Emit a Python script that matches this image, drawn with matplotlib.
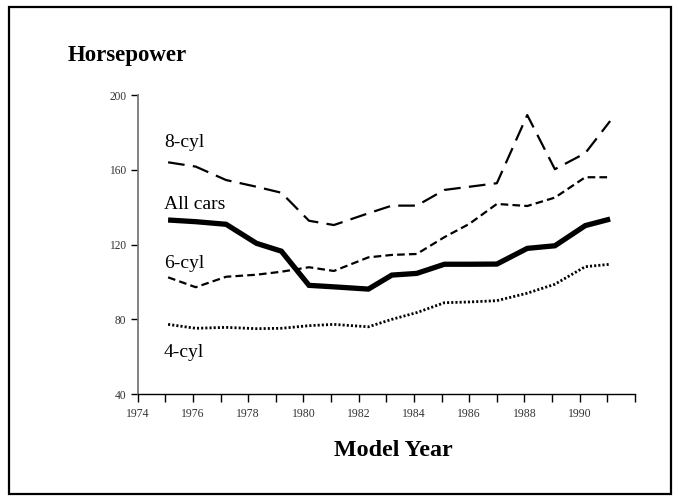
import matplotlib
matplotlib.use("Agg")
import matplotlib.pyplot as plt
from matplotlib.patches import Rectangle

plt.rcParams['font.family'] = ['Liberation Serif', 'DejaVu Serif']
plt.rcParams['lines.scale_dashes'] = False

# Data
years = [1975.1, 1976.1, 1977.2, 1978.3, 1979.2, 1980.2, 1981.1, 1982.35, 1983.2,
         1984.1, 1985.1, 1986.0, 1987.0, 1988.1, 1989.1, 1990.2, 1991.1]
cyl8 = [164.1, 161.8, 154.6, 151.0, 147.8, 132.8, 130.5, 136.8, 140.9,
        140.9, 149.3, 151.0, 152.9, 189.4, 160.4, 169.0, 186.2]
all_cars = [133.2, 132.3, 130.9, 120.7, 116.5, 98.2, 97.4, 96.2, 103.7,
            104.6, 109.5, 109.5, 109.6, 118.0, 119.4, 130.2, 133.7]
cyl6 = [102.5, 97.2, 102.8, 103.9, 105.5, 107.9, 105.9, 113.2, 114.5,
        115.0, 124.0, 131.1, 141.8, 140.7, 145.2, 156.1, 156.1]
cyl4 = [77.3, 75.2, 75.7, 75.0, 75.2, 76.6, 77.3, 76.0, 80.0,
        83.6, 88.9, 89.3, 90.0, 94.0, 98.8, 108.2, 109.5]

series_labels = ["8-cyl", "All cars", "6-cyl", "4-cyl"]
label_values = [172.5, 139.1, 107.3, 59.7]

xtick_major = list(range(1974, 1993))
xtick_labels = [str(y) if (y % 2 == 0 and y <= 1990) else "" for y in xtick_major]
yticks = [40, 80, 120, 160, 200]

fig = plt.figure(figsize=(6.79, 4.97), dpi=100)
ax = fig.add_axes([0.2028, 0.2072, 0.9352 - 0.2028, 0.8083 - 0.2072])

ax.plot(years, cyl8, color='black', lw=1.6, linestyle=(0, (12, 6)), dash_capstyle='butt')
ax.plot(years, cyl6, color='black', lw=1.6, linestyle=(0, (5.5, 3)), dash_capstyle='butt')
ax.plot(years, all_cars, color='black', lw=3.8, solid_joinstyle='miter', solid_capstyle='butt')
ax.plot(years, cyl4, color='black', lw=2.0, linestyle=(0, (1.5, 1.5)), dash_capstyle='butt')

ax.set_xlim(1974, 1992)
ax.set_ylim(40, 200)
ax.set_xticks(xtick_major)
ax.set_xticklabels(xtick_labels)
ax.set_yticks(yticks)
ax.set_yticklabels([str(v) for v in yticks])

for s in ['top', 'right']:
    ax.spines[s].set_visible(False)
ax.spines['left'].set_color('#777777')
ax.spines['left'].set_linewidth(1.3)
ax.spines['bottom'].set_color('black')
ax.spines['bottom'].set_linewidth(1.0)
ax.tick_params(axis='x', direction='out', length=6, width=1.0, colors='black',
               labelsize=8.5, labelcolor='#333333', pad=4)
ax.tick_params(axis='y', direction='out', length=5, width=1.0, colors='black',
               labelsize=8.3, labelcolor='#333333', pad=3)

for lab, val in zip(series_labels, label_values):
    ax.text(1974.95, val, lab, fontsize=14, ha='left', va='baseline', color='black')

fig.text(68 / 679, 1 - 55 / 497, "Horsepower", fontsize=16.5, fontweight='bold',
         ha='left', va='center')
fig.text(393 / 679, 1 - 451 / 497, "Model Year", fontsize=17.3, fontweight='bold',
         ha='center', va='center')

fig.patches.append(Rectangle((8.5 / 679, 1 - 494 / 497), (671 - 8.5) / 679, (494 - 7) / 497,
                             transform=fig.transFigure, fill=False, edgecolor='black',
                             linewidth=1.6))

fig.savefig("out.png", dpi=100)
